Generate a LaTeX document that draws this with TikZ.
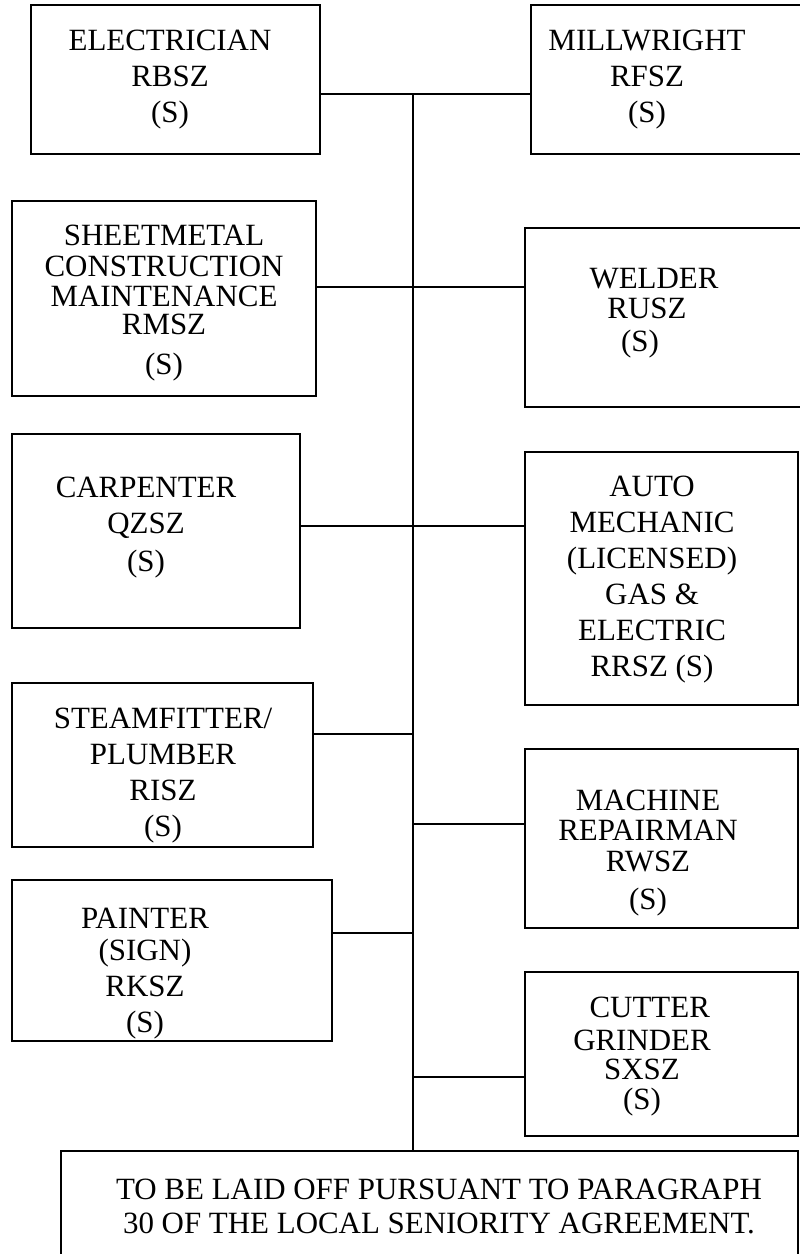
\documentclass[tikz,border=0pt]{standalone}
\usepackage{fontspec}
\setmainfont{Liberation Serif}
\usetikzlibrary{positioning, calc}
\definecolor{borderMain}{HTML}{000000}
\definecolor{textMain}{HTML}{000000}
\tikzset{
  jobbox/.style={draw=borderMain, line width=1.4pt, inner sep=0pt, outer sep=0pt,
    rectangle, fill=white},
  jobtext/.style={font=\fontsize{22}{25.6}\selectfont, text=textMain,
    align=center, inner sep=0pt},
  link/.style={draw=borderMain, line width=1.4pt},
}

\begin{document}
\begin{tikzpicture}[x=0.025cm, y=-0.025cm]

  \useasboundingbox (0,0) rectangle (800,1254);

  % === Left column boxes ===
  \node[jobbox, minimum width=7.225cm, minimum height=3.725cm] (elec) at (175.5,79.5) {};
  \node[jobbox, minimum width=7.6cm, minimum height=4.875cm] (sheet) at (164,298.5) {};
  \node[jobbox, minimum width=7.2cm, minimum height=4.85cm] (carp) at (156,531) {};
  \node[jobbox, minimum width=7.525cm, minimum height=4.1cm] (steam) at (162.5,765) {};
  \node[jobbox, minimum width=8.0cm, minimum height=4.025cm] (paint) at (172,960.5) {};

  % === Right column boxes ===
  \node[jobbox, minimum width=6.85cm, minimum height=3.725cm] (mill) at (668,79.5) {};
  \node[jobbox, minimum width=7.0cm, minimum height=4.475cm] (weld) at (665,317.5) {};
  \node[jobbox, minimum width=6.825cm, minimum height=6.325cm] (auto) at (661.5,578.5) {};
  \node[jobbox, minimum width=6.825cm, minimum height=4.475cm] (mach) at (661.5,838.5) {};
  \node[jobbox, minimum width=6.825cm, minimum height=4.1cm] (cut) at (661.5,1054) {};

  % === Bottom note ===
  \node[jobbox, minimum width=18.425cm, minimum height=2.775cm] (note) at (429.5,1206.5) {};

  % === Box texts ===
  \node[jobtext] (electxt) at (170,80) {ELECTRICIAN\\RBSZ\\(S)};
  \node[jobtext] (milltxt) at (647,80) {MILLWRIGHT\\RFSZ\\(S)};
  \node[jobtext] (sheettxt) at (164,303) {SHEETMETAL\\[-3.1pt]CONSTRUCTION\\[-4.3pt]MAINTENANCE\\[-5.5pt]RMSZ\hspace*{15pt}\\[2.8pt](S)};
  \node[jobtext] (weldtxt) at (647,313) {\hspace*{10pt}WELDER\\[-4.3pt]RUSZ\\[-1.9pt](S)\hspace*{10pt}};
  \node[jobtext] (carptxt) at (146,528) {CARPENTER\\QZSZ\\[1.4pt](S)};
  \node[jobtext] (autotxt) at (652,580) {AUTO\\MECHANIC\\(LICENSED)\\GAS \&\\ELECTRIC\hspace*{11pt}\\RRSZ (S)};
  \node[jobtext] (steamtxt) at (163,776) {STEAMFITTER/\\PLUMBER\\RISZ\\(S)};
  \node[jobtext] (machtxt) at (648,853) {MACHINE\\[-3.6pt]REPAIRMAN\\[-3.6pt]RWSZ\\[1.4pt](S)};
  \node[jobtext] (painttxt) at (145,974) {PAINTER\\[-2.8pt](SIGN)\\RKSZ\\(S)};
  \node[jobtext] (cuttxt) at (642,1057) {\hspace*{11pt}CUTTER\\[-2.8pt]GRINDER\\[-4.3pt]SXSZ\\[-4.3pt](S)};
  \node[jobtext] (notetxt) at (439,1206) {TO BE LAID OFF PURSUANT TO PARAGRAPH\\[-1.4pt]30 OF THE LOCAL SENIORITY AGREEMENT.};

  % === Trunk junctions ===
  \coordinate (j1) at (413,94);
  \coordinate (j2) at (413,287);
  \coordinate (j3) at (413,526);
  \coordinate (j4) at (413,734);
  \coordinate (j5) at (413,824);
  \coordinate (j6) at (413,933);
  \coordinate (j7) at (413,1077);

  % Connectors: boxes -> trunk
  \draw[link] (elec.east |- j1) -- (mill.west |- j1);
  \draw[link] (sheet.east |- j2) -- (weld.west |- j2);
  \draw[link] (carp.east |- j3) -- (auto.west |- j3);
  \draw[link] (steam.east |- j4) -- (j4);
  \draw[link] (j5) -- (mach.west |- j5);
  \draw[link] (paint.east |- j6) -- (j6);
  \draw[link] (j7) -- (cut.west |- j7);
  \draw[link] (j1) -- (j1 |- note.north);

\end{tikzpicture}
\end{document}
